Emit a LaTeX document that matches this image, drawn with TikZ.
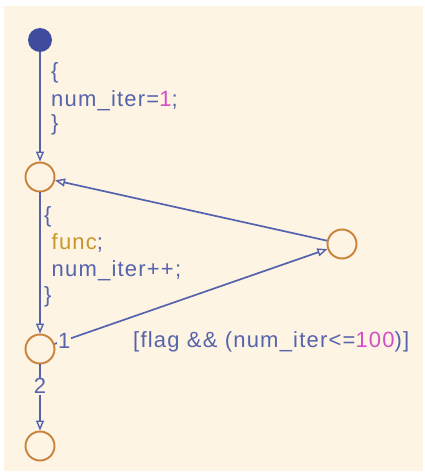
\documentclass[tikz,border=0pt]{standalone}
\usepackage{fontspec}
\setmainfont{Liberation Sans}
\newfontfamily\labfont[LetterSpace=5.5]{Liberation Sans}
\usetikzlibrary{arrows.meta}
\definecolor{bg}{HTML}{FDF4E3}
\definecolor{lineblue}{HTML}{5563AE}
\definecolor{dotblue}{HTML}{3F4C9E}
\definecolor{juncorange}{HTML}{C8823C}
\definecolor{textblue}{HTML}{5664AC}
\definecolor{numpink}{HTML}{D24FC8}
\definecolor{funcorange}{HTML}{C9962A}
\tikzset{
  junction/.style={circle, draw=juncorange, line width=1.9pt, minimum size=29pt, inner sep=0pt, fill=bg},
  startdot/.style={circle, fill=dotblue, minimum size=24pt, inner sep=0pt},
  trans/.style={draw=lineblue, line width=1.7pt, -{Triangle[open, length=10pt, width=8pt, line width=1.4pt]}},
  codetext/.style={anchor=base west, inner sep=0pt, text=textblue, font=\labfont\fontsize{22pt}{26pt}\selectfont},
  numlabel/.style={text=textblue, font=\labfont\fontsize{22pt}{26pt}\selectfont, fill=bg, inner sep=1pt},
}
\begin{document}
\begin{tikzpicture}[x=1pt, y=-1pt]
\useasboundingbox (0,0) rectangle (425,474);
\fill[bg] (4,6) rectangle (423,471);

\node[startdot] (start) at (40,40) {};
\node[junction] (j1) at (40,177) {};
\node[junction] (j2) at (342,244) {};
\node[junction] (j3) at (40,349) {};
\node[junction] (j4) at (40,446) {};

\draw[trans] (start) -- (j1);
\draw[trans] (j1) -- (j3);
\draw[trans] (j3) -- node[numlabel, pos=0.035] (l1) {1} (j2);
\draw[trans] (j2) -- (j1);
\draw[trans] (j3) -- node[numlabel, pos=0.33] (l2) {2} (j4);

\node[codetext] (a1) at (51,78) {\{};
\node[codetext] (a2) at (51,106) {num\_iter=\textcolor{numpink}{1};};
\node[codetext] (a3) at (51,130) {\}};

\node[codetext] (b1) at (44,222) {\{};
\node[codetext] (b2) at (51.5,249) {\textcolor{funcorange}{func};};
\node[codetext] (b3) at (51.5,276) {num\_iter++;};
\node[codetext] (b4) at (44,302) {\}};

\node[codetext] (g) at (133,347) {[flag \&\& (num\_iter<=\textcolor{numpink}{100})]};
\end{tikzpicture}
\end{document}
